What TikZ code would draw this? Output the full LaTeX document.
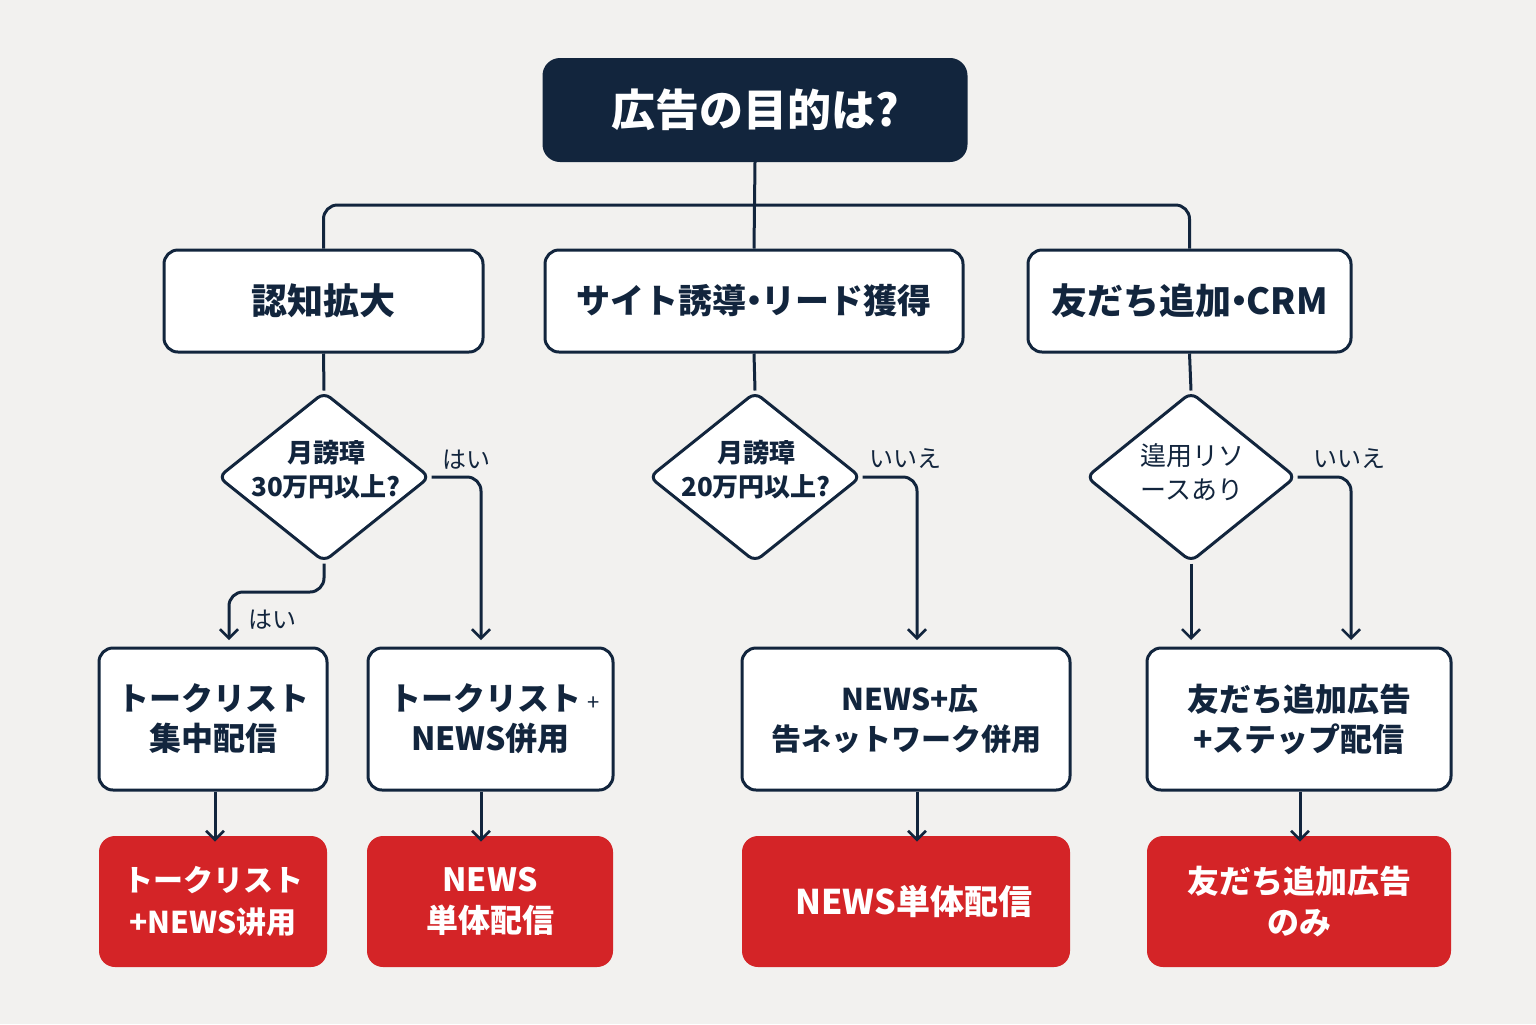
\documentclass[tikz,border=0pt]{standalone}
\usepackage{fontspec}
\setmainfont{Noto Sans CJK JP}
\usetikzlibrary{shapes.geometric,arrows.meta}
\definecolor{navy}{HTML}{12253D}
\definecolor{redbox}{HTML}{D42427}
\definecolor{bg}{HTML}{F2F1EF}
\newcommand{\mdot}{\kern-0.28em・\kern-0.28em}
\begin{document}
\begin{tikzpicture}[x=0.5pt,y=-0.5pt,
  line/.style={draw=navy,line width=1.5pt,rounded corners=7pt},
  arr/.style={line,-{Straight Barb[length=4.5pt,width=9pt,line width=1.3pt]}},
  topbox/.style={draw=navy,fill=navy,line width=1.5pt,rounded corners=8pt,text=white,font=\bfseries\fontsize{22}{26}\selectfont,inner sep=0pt,align=center},
  catbox/.style={draw=navy,fill=white,line width=1.5pt,rounded corners=7pt,text=navy,font=\bfseries\fontsize{18}{22}\selectfont,inner sep=0pt,minimum height=51pt,align=center},
  dia/.style={diamond,draw=navy,fill=white,line width=1.5pt,rounded corners=4pt,inner sep=0pt,minimum width=106pt,minimum height=85pt},
  diatext/.style={text=navy,inner sep=0pt,align=center,font=\fontsize{13}{17}\selectfont},
  actbox/.style={draw=navy,fill=white,line width=1.5pt,rounded corners=7pt,text=navy,font=\bfseries\fontsize{16}{20}\selectfont,inner sep=0pt,minimum height=71pt,align=center},
  resbox/.style={fill=redbox,rounded corners=8pt,text=white,font=\bfseries\fontsize{16}{20.5}\selectfont,inner sep=0pt,minimum height=65.5pt,align=center},
  lbl/.style={text=navy,font=\fontsize{12}{14}\selectfont,inner sep=0pt}]
\fill[bg] (0,0) rectangle (1536,1024);
\useasboundingbox (0,0) rectangle (1536,1024);

% top
\node[topbox,minimum width=211pt,minimum height=50.5pt] (top) at (755,110) {広告の目的は?};

% categories
\node[catbox,minimum width=159.5pt] (c1) at (323.5,301) {認知拡大};
\node[catbox,minimum width=209pt,font=\bfseries\fontsize{17}{20}\selectfont] (c2) at (754,301) {サイト誘導\mdot リード獲得};
\node[catbox,minimum width=161.5pt] (c3) at (1189.5,301) {友だち追加\mdot CRM};

% diamonds
\node[dia] (d1) at (324,477) {};
\node[dia] (d2) at (755,477) {};
\node[dia,minimum width=105pt] (d3) at (1191,477) {};
\node[diatext,font=\bfseries\fontsize{13}{17}\selectfont] (t1) at (326,470) {月謗璋\\30万円以上?};
\node[diatext,font=\bfseries\fontsize{13}{17}\selectfont] (t2) at (756,470) {月謗璋\\20万円以上?};
\node[diatext] (t3) at (1192,472) {遑用リソ\\ースあり};

% actions
\node[actbox,minimum width=114pt] (a1) at (213,719) {トークリスト\\集中配信};
\node[actbox,minimum width=122.5pt] (a2) at (490.5,719) {\hspace*{4pt}トークリスト\,{\mdseries\fontsize{11}{13}\selectfont +}\\NEWS併用};
\node[actbox,minimum width=164pt,font=\bfseries\fontsize{15}{20}\selectfont] (a3) at (906,719) {\hspace*{4pt}NEWS+広\\告ネットワーク併用};
\node[actbox,minimum width=152pt] (a4) at (1299,719) {友だち追加広告\\+ステップ配信};

% results
\node[resbox,minimum width=114pt,font=\bfseries\fontsize{15}{21}\selectfont] (r1) at (213,901.5) {トークリスト\\+NEWS讲用};
\node[resbox,minimum width=123pt] (r2) at (490,901.5) {NEWS\\単体配信};
\node[resbox,minimum width=164pt,font=\bfseries\fontsize{17}{20}\selectfont] (r3) at (906,901.5) {\hspace*{8pt}NEWS単体配信};
\node[resbox,minimum width=152pt] (r4) at (1299,901.5) {友だち追加広告\\のみ};

% helper coordinates
\coordinate (hy) at (0,205);
\coordinate (xa) at (229,0);
\coordinate (xb) at (481,0);
\coordinate (xc) at (917,0);
\coordinate (xd) at (1351,0);
\coordinate (ya) at (0,640);
\coordinate (yb) at (0,592);
\coordinate (ra) at (215,0);
\coordinate (rd) at (1300,0);

% top tree
\draw[line] (top.south) -- (c2.north);
\draw[line] (c1.north) -- (c1.north |- hy) -- (c3.north |- hy) -- (c3.north);

% category to diamond
\draw[line] (c1.south) -- (d1.north);
\draw[line] (c2.south) -- (d2.north);
\draw[line] (c3.south) -- (d3.north);

% diamond 1
\draw[arr] (d1.east) -- (d1.east -| xb) -- (xb |- ya);
\draw[arr] (d1.south) -- (d1.south |- yb) -- (xa |- yb) -- (xa |- ya);
\node[lbl] (l1) at (466,460) {はい};
\node[lbl] (l2) at (272,620) {はい};

% diamond 2
\draw[arr] (d2.east) -- (d2.east -| xc) -- (xc |- ya);
\node[lbl] (l3) at (905,459) {いいえ};

% diamond 3
\draw[arr] (d3.east) -- (d3.east -| xd) -- (xd |- ya);
\draw[arr] (d3.south) -- (d3.south |- ya);
\node[lbl] (l4) at (1349,459) {いいえ};

% actions to results
\draw[arr] (a1.south -| ra) -- ([yshift=-3pt]r1.north -| ra);
\draw[arr] (a2.south -| xb) -- ([yshift=-3pt]r2.north -| xb);
\draw[arr] (a3.south -| xc) -- ([yshift=-3pt]r3.north -| xc);
\draw[arr] (a4.south -| rd) -- ([yshift=-3pt]r4.north -| rd);
\end{tikzpicture}
\end{document}
